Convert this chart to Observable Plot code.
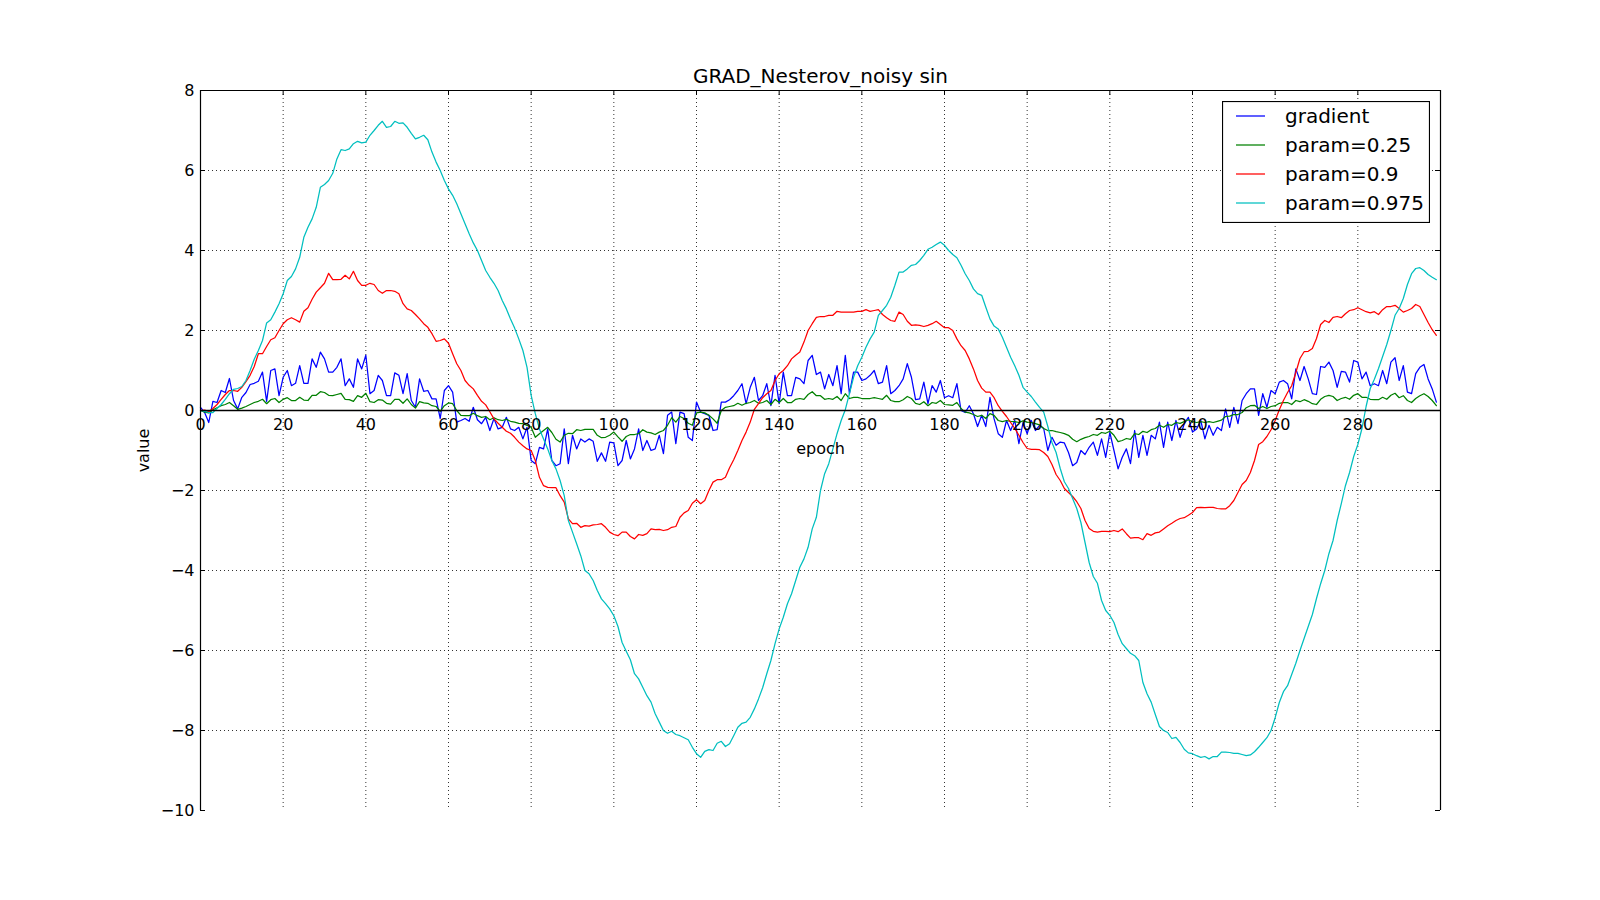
<!DOCTYPE html>
<html>
<head>
<meta charset="utf-8">
<script src="https://cdn.jsdelivr.net/npm/d3@7"></script>
<script src="https://cdn.jsdelivr.net/npm/@observablehq/plot@0.6"></script>
<style>
  body { margin: 0; background: #fff; }
  #wrap { position: relative; width: 1600px; height: 900px; font-family: "DejaVu Sans", sans-serif; }
  #legend { position: absolute; left: 1222px; top: 101px; }
</style>
</head>
<body>
<div id="wrap"></div>
<script>
// ---------------- data ----------------
const titleText = "GRAD_Nesterov_noisy sin";
const xLabel = "epoch";
const yLabel = "value";
const seriesNames = ["gradient", "param=0.25", "param=0.9", "param=0.975"];
const seriesColors = ["#0000ff", "#008000", "#ff0000", "#00bfbf"];
const xTicks = [0, 20, 40, 60, 80, 100, 120, 140, 160, 180, 200, 220, 240, 260, 280];
const xGrid = [20, 40, 60, 80, 100, 120, 140, 160, 180, 200, 220, 240, 260, 280];
const yTicks = [-10, -8, -6, -4, -2, 0, 2, 4, 6, 8];
const yGrid = [-8, -6, -4, -2, 2, 4, 6];

const gradient = [
  0.08, -0.05, -0.3, 0.23, 0.2, 0.5, 0.45, 0.8, 0.25, 0.04,
  0.33, 0.45, 0.65, 0.68, 0.73, 0.96, 0.23, 1.0, 1.04, 0.37,
  0.83, 1.0, 0.62, 0.68, 1.12, 0.68, 0.68, 1.29, 1.08, 1.46,
  1.29, 0.96, 0.96, 1.08, 1.29, 0.62, 0.79, 0.58, 1.29, 1.04,
  1.38, 0.42, 0.5, 0.88, 0.75, 0.37, 0.37, 0.94, 0.88, 0.42,
  0.92, 0.25, 0.08, 0.79, 0.48, 0.5, 0.29, 0.29, -0.2, 0.5,
  0.62, 0.46, -0.29, -0.25, -0.2, -0.27, 0.08, -0.23, -0.33, -0.17,
  -0.5, -0.2, -0.46, -0.42, -0.17, -0.46, -0.5, -0.42, -0.71, -0.42,
  -1.25, -1.33, -0.92, -0.96, -0.46, -1.25, -1.38, -1.33, -0.46, -1.33,
  -0.62, -0.96, -0.71, -0.79, -0.71, -0.77, -1.27, -1.06, -1.27, -0.79,
  -0.81, -1.38, -1.25, -0.75, -1.21, -0.96, -0.46, -1.0, -0.75, -1.0,
  -0.96, -0.62, -1.08, -0.12, -0.04, -0.83, -0.04, -0.08, -0.67, -0.75,
  0.21, -0.04, -0.08, -0.12, -0.5, -0.48, 0.21, 0.21, 0.27, 0.37,
  0.5, 0.67, 0.17, 0.58, 0.83, 0.25, 0.37, 0.67, 0.12, 0.88,
  0.17, 0.96, 0.37, 0.37, 0.83, 0.79, 0.67, 1.25, 1.38, 0.9,
  0.96, 0.54, 0.9, 0.62, 1.12, 0.42, 1.38, 0.42, 0.96, 0.96,
  0.75, 0.79, 0.88, 1.0, 0.67, 0.71, 1.12, 0.42, 0.5, 0.62,
  0.79, 1.17, 0.83, 0.27, 0.29, 0.71, 0.17, 0.62, 0.46, 0.75,
  0.32, 0.37, 0.32, 0.67, 0.0, -0.05, 0.12, -0.08, -0.4, -0.12,
  -0.4, 0.33, -0.21, -0.58, -0.67, -0.25, -0.5, -0.25, -0.83, -0.3,
  -0.58, -0.25, -0.5, -0.37, -0.45, -1.0, -0.67, -0.87, -0.79, -0.81,
  -1.05, -1.38, -1.3, -1.0, -1.1, -0.92, -0.79, -1.12, -0.71, -1.17,
  -0.55, -1.0, -1.46, -1.17, -0.96, -1.33, -0.5, -1.17, -0.62, -1.12,
  -0.62, -0.71, -0.29, -0.92, -0.29, -0.75, -0.25, -0.67, -0.33, -0.17,
  -0.54, -0.46, -0.25, -0.71, -0.37, -0.62, -0.42, -0.5, 0.04, -0.42,
  0.08, -0.33, 0.25, 0.42, 0.54, 0.54, -0.12, 0.42, 0.08, 0.5,
  0.42, 0.71, 0.75, 0.67, 0.29, 1.04, 0.75, 1.1, 0.79, 0.42,
  0.4, 1.1, 1.08, 1.21, 1.0, 0.58, 0.98, 0.96, 0.71, 1.25,
  1.21, 0.79, 0.96, 0.62, 0.67, 0.62, 1.0, 0.67, 1.21, 1.32,
  0.75, 1.12, 0.46, 0.42, 0.92, 1.08, 1.15, 0.79, 0.54, 0.21
];

const param025 = [
  0, -0.04, -0.06, 0.02, 0.07, 0.12, 0.15, 0.2, 0.12, 0.03,
  0.06, 0.1, 0.15, 0.2, 0.23, 0.28, 0.17, 0.27, 0.3, 0.2,
  0.28, 0.32, 0.25, 0.25, 0.33, 0.26, 0.25, 0.38, 0.38, 0.47,
  0.45, 0.38, 0.37, 0.4, 0.43, 0.28, 0.27, 0.23, 0.37, 0.33,
  0.43, 0.22, 0.2, 0.27, 0.26, 0.18, 0.16, 0.28, 0.28, 0.18,
  0.29, 0.15, 0.06, 0.22, 0.19, 0.18, 0.12, 0.1, -0.02, 0.12,
  0.19, 0.17, 0.0, -0.12, -0.13, -0.13, -0.07, -0.13, -0.17, -0.15,
  -0.23, -0.18, -0.23, -0.25, -0.22, -0.27, -0.29, -0.32, -0.33, -0.37,
  -0.42, -0.67, -0.58, -0.5, -0.42, -0.55, -0.72, -0.79, -0.62, -0.57,
  -0.58, -0.48, -0.5, -0.47, -0.47, -0.47, -0.62, -0.68, -0.67, -0.62,
  -0.54, -0.66, -0.77, -0.65, -0.6, -0.6, -0.58, -0.48, -0.54, -0.56,
  -0.6, -0.54, -0.5, -0.37, -0.18, -0.29, -0.15, -0.2, -0.32, -0.37,
  -0.06, -0.04, -0.06, -0.12, -0.21, -0.32, 0.0, 0.08, 0.1, 0.12,
  0.18, 0.13, 0.18, 0.2, 0.25, 0.18, 0.2, 0.25, 0.15, 0.28,
  0.2, 0.3, 0.2, 0.2, 0.28, 0.3, 0.28, 0.4, 0.47, 0.37,
  0.37, 0.28, 0.3, 0.28, 0.35, 0.25, 0.42, 0.3, 0.33, 0.33,
  0.3, 0.3, 0.3, 0.32, 0.3, 0.28, 0.38, 0.25, 0.22, 0.22,
  0.27, 0.35, 0.3, 0.18, 0.15, 0.22, 0.12, 0.2, 0.18, 0.25,
  0.15, 0.14, 0.13, 0.2, 0.05, -0.04, -0.06, -0.1, -0.15, -0.12,
  -0.2, -0.08, -0.12, -0.25, -0.28, -0.25, -0.27, -0.28, -0.3, -0.26,
  -0.29, -0.3, -0.33, -0.36, -0.45, -0.5, -0.5, -0.53, -0.55, -0.58,
  -0.62, -0.72, -0.78, -0.72, -0.68, -0.65, -0.6, -0.62, -0.55, -0.57,
  -0.52, -0.62, -0.78, -0.75, -0.7, -0.72, -0.58, -0.6, -0.52, -0.55,
  -0.48, -0.45, -0.37, -0.42, -0.35, -0.37, -0.3, -0.32, -0.28, -0.23,
  -0.28, -0.3, -0.28, -0.3, -0.28, -0.3, -0.27, -0.24, -0.15, -0.14,
  -0.1, -0.1, -0.05, 0.07, 0.12, 0.13, 0.05, 0.1, 0.05, 0.1,
  0.12, 0.18, 0.2, 0.2, 0.15, 0.25, 0.22, 0.27, 0.23, 0.17,
  0.15, 0.28, 0.35, 0.38, 0.35, 0.25, 0.3, 0.33, 0.28, 0.38,
  0.42, 0.33, 0.33, 0.28, 0.27, 0.27, 0.33, 0.28, 0.38, 0.43,
  0.32, 0.37, 0.25, 0.2, 0.3, 0.37, 0.42, 0.35, 0.25, 0.12
];

const param09 = [
  0, 0.01, -0.03, 0.05, 0.15, 0.28, 0.4, 0.5, 0.5, 0.48,
  0.58, 0.72, 0.88, 1.1, 1.42, 1.42, 1.6, 1.77, 1.82, 2.0,
  2.17, 2.27, 2.32, 2.27, 2.21, 2.48, 2.57, 2.78, 2.96, 3.07,
  3.18, 3.43, 3.27, 3.27, 3.28, 3.38, 3.29, 3.48, 3.25, 3.13,
  3.13, 3.18, 3.15, 3.0, 2.93, 3.0, 3.0, 2.98, 2.92, 2.67,
  2.54, 2.5, 2.4, 2.29, 2.17, 2.08, 1.92, 1.73, 1.75, 1.79,
  1.68, 1.42, 1.17, 1.0, 0.75, 0.63, 0.54, 0.38, 0.23, 0.14,
  -0.03, -0.21, -0.32, -0.42, -0.52, -0.57, -0.67, -0.79, -0.88, -0.96,
  -1.0, -1.25, -1.67, -1.88, -1.92, -1.93, -1.93, -2.13, -2.29, -2.71,
  -2.83, -2.82, -2.92, -2.88, -2.89, -2.86, -2.85, -2.83, -2.92, -3.04,
  -3.1, -3.13, -3.04, -3.04, -3.15, -3.21, -3.1, -3.12, -3.08, -2.96,
  -2.98, -2.97, -3.0, -2.98, -2.92, -2.9, -2.67, -2.56, -2.5, -2.32,
  -2.23, -2.33, -2.25, -2.0, -1.79, -1.73, -1.73, -1.67, -1.43, -1.23,
  -1.0, -0.75, -0.54, -0.29, 0.03, 0.17, 0.32, 0.42, 0.5, 0.75,
  0.92, 1.0, 1.12, 1.29, 1.38, 1.46, 1.71, 2.0, 2.17, 2.33,
  2.35, 2.35, 2.38, 2.38, 2.48, 2.46, 2.46, 2.46, 2.46, 2.48,
  2.48, 2.52, 2.48, 2.5, 2.52, 2.4, 2.32, 2.25, 2.23, 2.46,
  2.4, 2.23, 2.13, 2.14, 2.13, 2.1, 2.13, 2.17, 2.23, 2.15,
  2.07, 2.07, 2.0, 1.79, 1.62, 1.5, 1.29, 1.04, 0.75, 0.56,
  0.46, 0.46, 0.32, 0.12, -0.02, -0.15, -0.3, -0.45, -0.62, -0.8,
  -0.95, -0.97, -0.97, -0.98, -1.05, -1.15, -1.35, -1.6, -1.75, -1.95,
  -2.05, -2.15, -2.28, -2.45, -2.75, -2.95, -3.02, -3.04, -3.02, -3.02,
  -3.03, -3.0, -3.03, -2.96, -3.08, -3.19, -3.18, -3.18, -3.23, -3.08,
  -3.12, -3.06, -3.04, -2.96, -2.88, -2.82, -2.75, -2.7, -2.68, -2.62,
  -2.55, -2.43, -2.42, -2.43, -2.42, -2.42, -2.45, -2.46, -2.46, -2.38,
  -2.25, -2.05, -1.85, -1.75, -1.55, -1.25, -0.85, -0.78, -0.65, -0.48,
  -0.25, 0.02, 0.25, 0.45, 0.62, 0.95, 1.3, 1.47, 1.48, 1.55,
  1.8, 2.15, 2.25, 2.2, 2.33, 2.35, 2.32, 2.42, 2.5, 2.52,
  2.57, 2.52, 2.47, 2.44, 2.47, 2.4, 2.52, 2.6, 2.6, 2.63,
  2.55, 2.46, 2.5, 2.55, 2.65, 2.6, 2.4, 2.2, 2.02, 1.88
];

const param0975 = [
  0, -0.02, -0.05, -0.05, 0.05, 0.15, 0.28, 0.42, 0.53, 0.55,
  0.6, 0.75, 1.0, 1.28, 1.5, 1.75, 2.19, 2.27, 2.46, 2.67,
  2.92, 3.25, 3.35, 3.54, 3.83, 4.33, 4.58, 4.79, 5.08, 5.58,
  5.65, 5.75, 5.93, 6.29, 6.52, 6.5, 6.54, 6.67, 6.73, 6.69,
  6.71, 6.88, 7.0, 7.13, 7.23, 7.08, 7.1, 7.23, 7.18, 7.19,
  7.08, 6.93, 6.79, 6.83, 6.88, 6.77, 6.46, 6.21, 6.0, 5.75,
  5.54, 5.38, 5.17, 4.92, 4.67, 4.42, 4.19, 4.0, 3.75, 3.5,
  3.33, 3.18, 3.0, 2.75, 2.54, 2.29, 2.06, 1.79, 1.5, 1.08,
  0.38, -0.08, -0.46, -0.71, -0.96, -1.25, -1.46, -1.75, -2.13, -2.75,
  -3.04, -3.33, -3.63, -4.0, -4.08, -4.25, -4.5, -4.71, -4.83, -4.96,
  -5.13, -5.4, -5.8, -6.02, -6.23, -6.58, -6.71, -6.92, -7.13, -7.29,
  -7.58, -7.79, -8.0, -8.07, -8.02, -8.1, -8.13, -8.18, -8.23, -8.42,
  -8.58, -8.67, -8.52, -8.48, -8.5, -8.32, -8.27, -8.4, -8.33, -8.13,
  -7.92, -7.82, -7.79, -7.67, -7.46, -7.21, -6.93, -6.58, -6.25, -5.83,
  -5.46, -5.17, -4.83, -4.58, -4.25, -3.92, -3.71, -3.42, -2.96, -2.67,
  -2.0, -1.58, -1.33, -0.96, -0.58, -0.25, 0.02, 0.42, 0.83, 1.12,
  1.33, 1.58, 1.79, 1.96, 2.38, 2.5, 2.63, 2.83, 3.13, 3.46,
  3.46, 3.54, 3.63, 3.65, 3.75, 3.88, 4.03, 4.08, 4.15, 4.21,
  4.13, 4.0, 3.9, 3.82, 3.63, 3.42, 3.25, 3.04, 2.92, 2.88,
  2.58, 2.29, 2.11, 2.04, 1.83, 1.58, 1.33, 1.12, 0.88, 0.58,
  0.46, 0.35, 0.21, 0.08, -0.04, -0.4, -0.8, -1.05, -1.45, -1.78,
  -1.95, -2.2, -2.45, -2.8, -3.3, -3.8, -4.15, -4.32, -4.75, -5.0,
  -5.12, -5.3, -5.6, -5.83, -5.95, -6.07, -6.13, -6.25, -6.8, -7.08,
  -7.29, -7.6, -7.9, -8.0, -8.05, -8.2, -8.17, -8.3, -8.47, -8.56,
  -8.58, -8.63, -8.67, -8.65, -8.71, -8.65, -8.65, -8.54, -8.54, -8.55,
  -8.57, -8.57, -8.6, -8.63, -8.61, -8.53, -8.42, -8.3, -8.18, -8.0,
  -7.68, -7.3, -7.03, -6.88, -6.6, -6.32, -6.0, -5.7, -5.4, -5.1,
  -4.7, -4.33, -4.0, -3.58, -3.25, -2.75, -2.33, -1.88, -1.55, -1.15,
  -0.85, -0.45, 0.1, 0.55, 0.78, 1.05, 1.35, 1.65, 2.0, 2.38,
  2.55, 2.8, 3.15, 3.42, 3.55, 3.57, 3.5, 3.4, 3.33, 3.27
];

// ---------------- build ----------------
const seriesValues = [gradient, param025, param09, param0975];
const rows = seriesValues.flatMap((vals, s) =>
  vals.map((v, i) => ({ epoch: i, value: v, series: seriesNames[s] })));

const W = 1600, H = 900, mL = 200, mR = 160, mT = 90, mB = 90;
const pw = W - mL - mR, ph = H - mT - mB;
const tickLen = 5;
const fmt = d => (d < 0 ? "\u2212" + Math.abs(d) : String(d));

const chart = Plot.plot({
  width: W, height: H,
  marginLeft: mL, marginRight: mR, marginTop: mT, marginBottom: mB,
  x: { domain: [0, 300], axis: null },
  y: { domain: [-10, 8], axis: null },
  color: { domain: seriesNames, range: seriesColors },
  style: { fontFamily: "DejaVu Sans", fontSize: "16px", color: "black", background: "white", overflow: "visible" },
  marks: [
    // dotted grid
    Plot.ruleX(xGrid, { x: d => d, stroke: "black", strokeWidth: 1, strokeDasharray: "1,3", strokeOpacity: 0.8 }),
    Plot.ruleY(yGrid, { y: d => d, stroke: "black", strokeWidth: 1, strokeDasharray: "1,3", strokeOpacity: 0.8 }),
    // series
    Plot.line(rows, { x: "epoch", y: "value", z: "series", stroke: "series", strokeWidth: 1.25 }),
    // spines
    Plot.ruleY([8], { y: d => d, stroke: "black", strokeWidth: 1.2 }),
    Plot.ruleX([0, 300], { x: d => d, stroke: "black", strokeWidth: 1.2 }),
    Plot.ruleY([0], { y: d => d, stroke: "black", strokeWidth: 1.4 }),
    // inward ticks
    Plot.tickY(yTicks, { y: d => d, insetRight: pw - tickLen, stroke: "black" }),
    Plot.tickY(yTicks, { y: d => d, insetLeft: pw - tickLen, stroke: "black" }),
    Plot.tickX(xTicks, { x: d => d, insetBottom: ph - tickLen, stroke: "black" }),
    // tick labels
    Plot.text(yTicks, { y: d => d, frameAnchor: "left", dx: -6, textAnchor: "end", lineAnchor: "middle", text: fmt, fontSize: 16 }),
    Plot.text(xTicks, { x: d => d, y: () => 0, dy: 14, lineAnchor: "middle", text: fmt, fontSize: 16 }),
    // axis labels and title
    Plot.text([0], { y: d => d, frameAnchor: "middle", dy: 38, textAnchor: "middle", lineAnchor: "middle", text: () => xLabel, fontSize: 16 }),
    Plot.text([yLabel], { frameAnchor: "left", dx: -57, rotate: -90, textAnchor: "middle", lineAnchor: "middle", text: d => d, fontSize: 16 }),
    Plot.text([titleText], { frameAnchor: "top", dy: -14, textAnchor: "middle", lineAnchor: "middle", text: d => d, fontSize: 20 })
  ]
});

const wrap = document.getElementById("wrap");
wrap.appendChild(chart);

// legend
const lw = 208, lh = 122, rowH = 29;
const leg = d3.select(wrap).append("svg")
  .attr("id", "legend").attr("width", lw).attr("height", lh);
leg.append("rect").attr("x", 0.5).attr("y", 0.5).attr("width", lw - 1).attr("height", lh - 1)
  .attr("fill", "white").attr("stroke", "black").attr("stroke-width", 1.2);
const g = leg.selectAll("g").data(seriesNames).join("g")
  .attr("transform", (d, i) => `translate(0, ${15 + i * rowH})`);
g.append("line").attr("x1", 14).attr("x2", 43).attr("y1", 0).attr("y2", 0)
  .attr("stroke", (d, i) => seriesColors[i]).attr("stroke-width", 1.25);
g.append("text").attr("x", 63).attr("y", 0).attr("dy", "0.35em")
  .attr("font-family", "DejaVu Sans").attr("font-size", 20).text(d => d);
</script>
</body>
</html>
